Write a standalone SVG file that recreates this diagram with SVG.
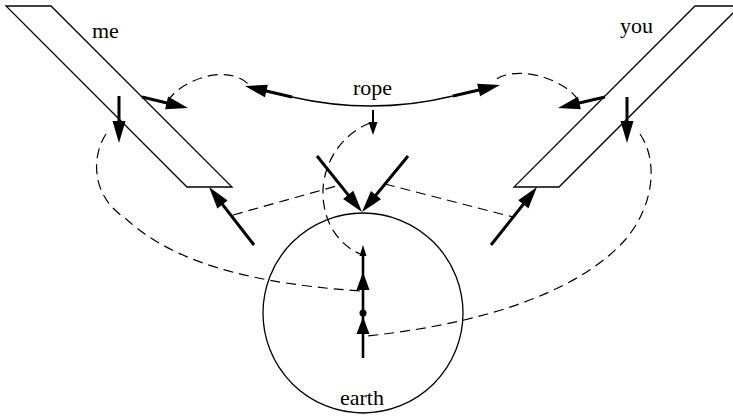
<svg xmlns="http://www.w3.org/2000/svg" width="733" height="416" viewBox="0 0 733 416">
<style>
.thin{fill:none;stroke:#000;stroke-width:1.3}
.dash{fill:none;stroke:#000;stroke-width:1.2;stroke-dasharray:10 6}
.thick{fill:none;stroke:#000;stroke-width:3;marker-end:url(#ah)}
.lbl{font-family:"Liberation Serif","Times New Roman",serif;font-size:22px;fill:#000}
.head{fill:#000;stroke:none}
</style>
<defs>
<marker id="ah" markerUnits="userSpaceOnUse" viewBox="-9 -7 24 14" markerWidth="24" markerHeight="14" refX="0" refY="0" orient="auto">
<path d="M14,0 L-8,-6.5 L-8,6.5 z" fill="#000"/>
</marker>
</defs>
<g id="me">
<polygon class="thin" points="6,6 51,6 232,187 187,187"/>
<text class="lbl" x="92" y="38">me</text>
</g>
<g id="you">
<polygon class="thin" points="695,6 740,6 559,187 514,187"/>
<text class="lbl" x="620" y="33">you</text>
</g>
<g id="earth">
<circle class="thin" cx="363" cy="313" r="100"/>
<text class="lbl" x="340" y="405">earth</text>
</g>
<g id="rope">
<path class="thin" d="M292,97 Q373,115.5 453,96"/>
<text class="lbl" x="353" y="95">rope</text>
</g>
<g id="connectors">
<path class="dash" d="M168,101 C180,80 230,62 250,86"/>
<path class="dash" d="M578,100 C566,80 516,62 492,82"/>
<path class="dash" d="M106,134 C92,155 90,195 125,218 C160,250 220,282 362,291"/>
<path class="dash" d="M640,134 C658,160 655,205 625,240 C585,285 500,322 367,336"/>
<path class="dash" d="M370,123 C340,135 322,165 323,195 C324,225 340,245 360,254"/>
<path class="dash" d="M233,215 L340,185"/>
<path class="dash" d="M385,184 L513,217"/>
<line class="thick" x1="119" y1="96" x2="119" y2="129"/>
<line class="thick" x1="627" y1="97" x2="627" y2="129"/>
<line class="thick" x1="142" y1="97" x2="174.4" y2="104.7"/>
<line class="thick" x1="605" y1="97" x2="571.6" y2="104.8"/>
<line class="thick" x1="292" y1="97" x2="258.6" y2="89.2"/>
<line class="thick" x1="453" y1="96" x2="486.4" y2="88.2"/>
<line class="thick" x1="317" y1="156" x2="353.2" y2="201.1"/>
<line class="thick" x1="408" y1="156" x2="370.9" y2="201.2"/>
<line class="thick" x1="254" y1="245" x2="217.6" y2="198.1"/>
<line class="thick" x1="491" y1="245" x2="528.3" y2="198"/>
<line x1="373" y1="110" x2="373" y2="124" stroke="#000" stroke-width="2"/>
<polygon class="head" points="373,135 368.5,122 377.5,122"/>
<line x1="363" y1="358" x2="363" y2="252" stroke="#000" stroke-width="2.6"/>
<polygon class="head" points="363,245 359.5,256 366.5,256"/>
<polygon class="head" points="363,272 356.5,290 369.5,290"/>
<polygon class="head" points="363,317 356.5,334 369.5,334"/>
<circle cx="363" cy="313" r="3.5" fill="#000"/>
</g>
</svg>
